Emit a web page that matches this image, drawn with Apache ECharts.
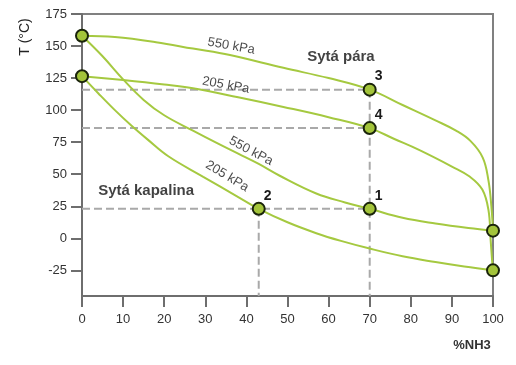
<!DOCTYPE html>
<html><head><meta charset="utf-8">
<script src="https://cdn.jsdelivr.net/npm/echarts@6/dist/echarts.min.js"></script>
<style>html,body{margin:0;padding:0;background:#fff}#c{width:516px;height:365px}</style>
</head><body><div id="c"></div>
<script>
// Curves: [%NH3, T (°C)]
const vap550 = [[0,158],[8,157],[18,153],[27,148],[36,143],[49,133],[60,125],[70,116],[78,104],[86,92],[91,84],[94.5,76],[97.5,63],[98.9,45],[99.6,25],[100,6]];
const vap205 = [[0,126.5],[10,123.5],[20,120],[27,117],[38,110],[49,102.5],[60,94.5],[70,86],[76,77.5],[82,69],[90,56],[94.4,48],[97.4,38],[98.9,22],[99.4,0],[99.8,-18],[100,-25]];
const liq550 = [[0,158],[5,142],[10,124],[15,108],[20,96],[27,84],[33,74],[38,66],[43,58],[48,49],[57,35],[64,28],[70,23],[78,16],[86,11.5],[94,8],[100,6]];
const liq205 = [[0,126.5],[4,113],[8,100],[12,88],[16,77],[21,64],[29.5,48],[37.6,33],[43,23],[50,12.5],[57,4],[63,-2],[70,-8],[78,-14],[86,-18.5],[93,-22],[100,-25]];
// Marked points
const points = [[0,158],[0,126.5],[70,116],[70,86],[70,23],[43,23],[100,6],[100,-25]];
const pointNames = ['','','3','4','1','2','',''];
// Curve labels [x, y, text, rotation°]
const curveLabels = [[36.3,150,'550 kPa',-10],[35,119.5,'205 kPa',-10],[41.1,68,'550 kPa',-28],[35.3,48.4,'205 kPa',-31]];
const regionLabels = [[63,141.4,'Sytá pára'],[15.6,36.7,'Sytá kapalina']];
// Axis ticks
const xTicks = [0,10,20,30,40,50,60,70,80,90,100];
const yTicks = [-25,0,25,50,75,100,125,150,175];
const yMin = -45, yMax = 175;

const green = '#a5c940';
const p3 = points[2], p4 = points[3], p1 = points[4], p2 = points[5];
const guides = [
  [[0,p3[1]],[p3[0],p3[1]]],
  [[0,p4[1]],[p4[0],p4[1]]],
  [[0,p1[1]],[p1[0],p1[1]]],
  [[p3[0],p3[1]],[p3[0],yMin]],
  [[p2[0],p2[1]],[p2[0],yMin]]
];
const series = [];
guides.forEach(g => series.push({type:'line', data:g, symbol:'none', silent:true, z:1,
  lineStyle:{color:'#a9a9a9', width:2, type:[8,4]}}));
[vap550, vap205, liq550, liq205].forEach(d => series.push({type:'line', data:d, symbol:'none',
  smooth:0.4, z:3, lineStyle:{color:green, width:2}}));
series.push({type:'scatter', z:5, symbolSize:12,
  itemStyle:{color:'#a3c43a', borderColor:'#1a240a', borderWidth:2, opacity:1},
  data: points.map((p,i)=>({value:p, label:{show: pointNames[i]!=='', formatter: pointNames[i]}})),
  label:{position:'inside', offset:[9,-13], fontSize:14, fontWeight:'bold', color:'#1a1a1a',
    fontFamily:'Liberation Sans Narrow, Liberation Sans, Arial'}});
series.push({type:'scatter', z:6, symbolSize:1, silent:true, itemStyle:{color:'rgba(0,0,0,0)'},
  data: curveLabels.map(c=>({value:[c[0],c[1]], label:{rotate:c[3], formatter:c[2]}})),
  label:{show:true, position:'inside', fontSize:13, color:'#1a1a1a', fontFamily:'Liberation Sans, Arial'}});
series.push({type:'scatter', z:6, symbolSize:1, silent:true, itemStyle:{color:'rgba(0,0,0,0)'},
  data: regionLabels.map(c=>({value:[c[0],c[1]], label:{formatter:c[2]}})),
  label:{show:true, position:'inside', fontSize:15, fontWeight:'bold', color:'#111', fontFamily:'Liberation Sans, Arial'}});

const chart = echarts.init(document.getElementById('c'), null, {renderer:'canvas'});
chart.setOption({
  animation:false,
  backgroundColor:'#fff',
  grid:{left:82, right:23, top:14, bottom:69, show:true, borderColor:'#808080', borderWidth:2},
  xAxis:{type:'value', min:0, max:100, interval:10,
    axisLine:{show:true, onZero:false, lineStyle:{color:'#6e6e6e', width:2}},
    axisTick:{show:true, length:11, lineStyle:{color:'#6e6e6e', width:2}, customValues:xTicks},
    axisLabel:{fontSize:13, color:'#333', margin:17, customValues:xTicks, fontFamily:'Liberation Sans, Arial'},
    splitLine:{show:false}},
  yAxis:{type:'value', min:yMin, max:yMax,
    axisLine:{show:true, onZero:false, lineStyle:{color:'#6e6e6e', width:2}},
    axisTick:{show:true, length:11, lineStyle:{color:'#6e6e6e', width:2}, customValues:yTicks},
    axisLabel:{fontSize:13, color:'#333', margin:15, customValues:yTicks, fontFamily:'Liberation Sans, Arial'},
    splitLine:{show:false}},
  graphic:[
    {type:'text', x:25, y:37, rotation:Math.PI/2, style:{text:'T (°C)', fontSize:14, fill:'#222', align:'center', verticalAlign:'middle', fontFamily:'Liberation Sans, Arial'}},
    {type:'text', x:472, y:345, style:{text:'%NH3', fontSize:13, fontWeight:'bold', fill:'#333', align:'center', verticalAlign:'middle', fontFamily:'Liberation Sans, Arial'}}
  ],
  series: series
});
</script></body></html>
